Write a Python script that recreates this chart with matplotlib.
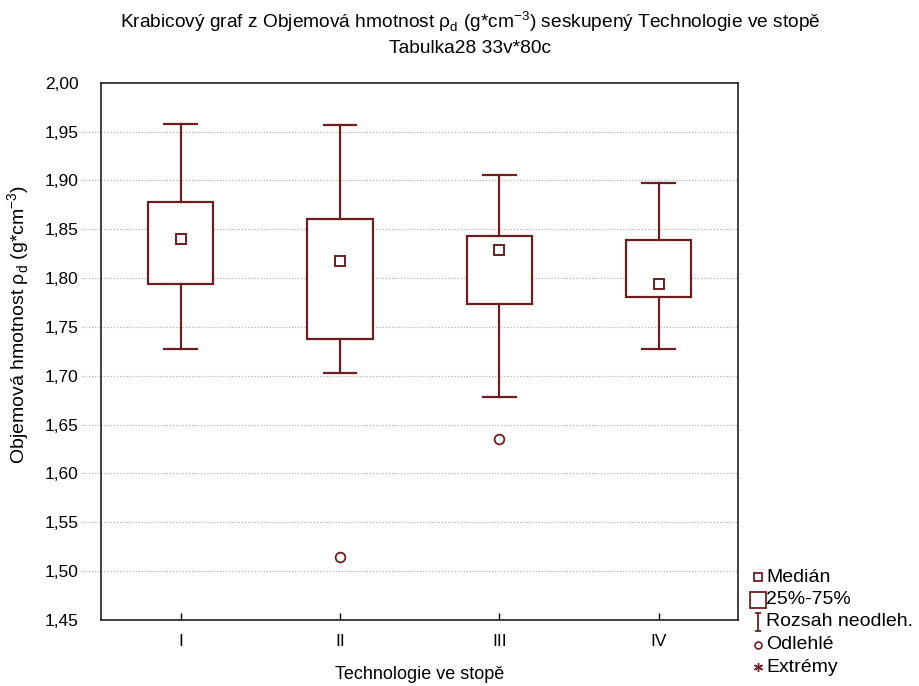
import matplotlib

matplotlib.use("Agg")
import matplotlib.pyplot as plt
from matplotlib.lines import Line2D
from matplotlib.path import Path

plt.rcParams["font.family"] = ["Liberation Sans", "DejaVu Sans"]

# box plot values
groups = ["I", "II", "III", "IV"]
medians = [1.840, 1.817, 1.829, 1.794]
q1 = [1.7935, 1.738, 1.774, 1.781]
q3 = [1.878, 1.860, 1.843, 1.839]
whisk_lo = [1.727, 1.703, 1.678, 1.7275]
whisk_hi = [1.958, 1.957, 1.906, 1.897]
outliers = [[], [1.514], [1.635], []]

y_ticks = [2.00, 1.95, 1.90, 1.85, 1.80, 1.75, 1.70, 1.65, 1.60, 1.55, 1.50, 1.45]

legend_labels = ["Medián", "25%-75%", "Rozsah neodleh.", "Odlehlé", "Extrémy"]

dark = "#6e1e1e"

fig = plt.figure(figsize=(9.2, 6.86), dpi=100)
ax = fig.add_axes([0.1098, 0.0962, 0.6926, 0.7832])

positions = list(range(1, len(groups) + 1))
stats = []
for i in range(len(groups)):
    stats.append({
        "med": medians[i], "q1": q1[i], "q3": q3[i],
        "whislo": whisk_lo[i], "whishi": whisk_hi[i],
        "fliers": outliers[i],
    })

ax.bxp(
    stats, positions=positions, widths=0.41, capwidths=0.205,
    patch_artist=True,
    boxprops=dict(facecolor="white", edgecolor=dark, linewidth=1.6),
    whiskerprops=dict(color=dark, linewidth=1.6),
    capprops=dict(color=dark, linewidth=1.6),
    medianprops=dict(linewidth=0),
    flierprops=dict(marker="o", markersize=7, markerfacecolor="white",
                    markeredgecolor=dark, markeredgewidth=1.3),
    zorder=3,
)
ax.plot(positions, medians, linestyle="none", marker="s", markersize=7,
        markerfacecolor="white", markeredgecolor=dark, markeredgewidth=1.4,
        zorder=4)

ax.set_xlim(0.5, 4.5)
ax.set_ylim(1.45, 2.00)
ax.set_xticks(positions)
ax.set_xticklabels(groups, fontsize=12.5)
ax.tick_params(axis="x", direction="in", length=5, width=1, pad=10)
ax.set_yticks(y_ticks)
ax.set_yticklabels([f"{v:.2f}".replace(".", ",") for v in y_ticks], fontsize=12.5)
ax.tick_params(axis="y", length=0, pad=16)

# dotted grid lines, continued a bit to the left of the axis like the original
grid_vals = y_ticks[1:-1]
ax.hlines(grid_vals, -0.03, 1, transform=ax.get_yaxis_transform(),
          colors="#b4b4b4", linestyles=(0, (1, 1.5)), linewidth=0.9,
          clip_on=False, zorder=1)

for s in ax.spines.values():
    s.set_linewidth(1.2)
    s.set_color("#202020")

ax.set_xlabel("Technologie ve stopě", fontsize=13, labelpad=12)
ax.set_ylabel(r"Objemová hmotnost ρ$_\mathregular{d}$ (g*cm$^\mathregular{-3}$)",
              fontsize=14)
ax.yaxis.set_label_coords(-0.108, 0.55)

fig.text(0.511, 0.968, r"Krabicový graf z Objemová hmotnost ρ$_\mathregular{d}$ (g*cm$^\mathregular{-3}$) seskupený Technologie ve stopě",
         ha="center", va="center", fontsize=13.8)
fig.text(0.511, 0.930, "Tabulka28 33v*80c", ha="center", va="center", fontsize=13.8)

# legend drawn by hand: symbol + text on fixed rows below the plot's right edge
ibeam = Path([(-0.33, 1), (0.33, 1), (0, 1), (0, -1), (-0.33, -1), (0.33, -1)],
             [Path.MOVETO, Path.LINETO, Path.MOVETO, Path.LINETO,
              Path.MOVETO, Path.LINETO])
symbols = [
    dict(marker="s", markersize=6, markerfacecolor="white", markeredgewidth=1.3),
    dict(marker="s", markersize=11.5, markerfacecolor="white", markeredgewidth=1.3),
    dict(marker=ibeam, markersize=12.5, markeredgewidth=1.3),
    dict(marker="o", markersize=5, markerfacecolor="white", markeredgewidth=1.2),
    dict(marker=(6, 2, 0), markersize=6.5, markeredgewidth=1.0),
]
row_top = 1 - 577 / 686
row_step = 22.5 / 686
for i, (sym, lab) in enumerate(zip(symbols, legend_labels)):
    y = row_top - i * row_step
    fig.add_artist(Line2D([0.8235], [y], transform=fig.transFigure,
                          linestyle="none", markeredgecolor=dark, **sym))
    fig.text(0.8325, y, lab, ha="left", va="center", fontsize=14)

fig.savefig("out.png", dpi=100)
